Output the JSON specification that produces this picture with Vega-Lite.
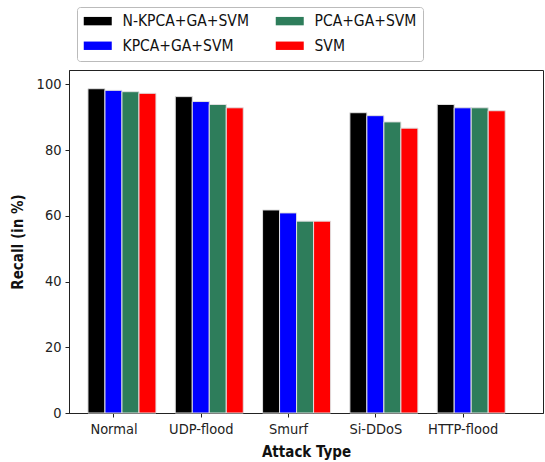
{
  "$schema": "https://vega.github.io/schema/vega-lite/v6.json",
  "width": 474,
  "height": 343,
  "autosize": {"type": "none"},
  "padding": {"left": 69, "top": 70, "right": 2, "bottom": 49},
  "background": "white",
  "config": {
    "font": "DejaVu Sans Condensed",
    "view": {"stroke": "#222222", "strokeWidth": 1}
  },
  "data": {
    "values": [
      {"attack": "Normal", "method": "N-KPCA+GA+SVM", "recall": 98.7},
      {"attack": "Normal", "method": "KPCA+GA+SVM", "recall": 98.2},
      {"attack": "Normal", "method": "PCA+GA+SVM", "recall": 97.8},
      {"attack": "Normal", "method": "SVM", "recall": 97.3},
      {"attack": "UDP-flood", "method": "N-KPCA+GA+SVM", "recall": 96.3},
      {"attack": "UDP-flood", "method": "KPCA+GA+SVM", "recall": 94.8},
      {"attack": "UDP-flood", "method": "PCA+GA+SVM", "recall": 93.9},
      {"attack": "UDP-flood", "method": "SVM", "recall": 92.9},
      {"attack": "Smurf", "method": "N-KPCA+GA+SVM", "recall": 61.8},
      {"attack": "Smurf", "method": "KPCA+GA+SVM", "recall": 60.9},
      {"attack": "Smurf", "method": "PCA+GA+SVM", "recall": 58.4},
      {"attack": "Smurf", "method": "SVM", "recall": 58.4},
      {"attack": "Si-DDoS", "method": "N-KPCA+GA+SVM", "recall": 91.4},
      {"attack": "Si-DDoS", "method": "KPCA+GA+SVM", "recall": 90.5},
      {"attack": "Si-DDoS", "method": "PCA+GA+SVM", "recall": 88.6},
      {"attack": "Si-DDoS", "method": "SVM", "recall": 86.7},
      {"attack": "HTTP-flood", "method": "N-KPCA+GA+SVM", "recall": 93.9},
      {"attack": "HTTP-flood", "method": "KPCA+GA+SVM", "recall": 92.9},
      {"attack": "HTTP-flood", "method": "PCA+GA+SVM", "recall": 92.9},
      {"attack": "HTTP-flood", "method": "SVM", "recall": 92.0}
    ]
  },
  "mark": {"type": "bar", "stroke": "#e0e0e0", "strokeWidth": 1},
  "encoding": {
    "x": {
      "field": "attack",
      "type": "nominal",
      "sort": ["Normal", "UDP-flood", "Smurf", "Si-DDoS", "HTTP-flood"],
      "scale": {"paddingInner": 0.221, "paddingOuter": 0.325, "align": 0.334},
      "axis": {
        "title": "Attack Type",
        "titleFontSize": 15,
        "titleFontWeight": "bold",
        "titleColor": "#111111",
        "titlePadding": 9,
        "labelAngle": 0,
        "labelFontSize": 14.5,
        "labelColor": "#222222",
        "labelPadding": 5,
        "tickOffset": -8.5,
        "tickSize": 4,
        "tickColor": "#222222",
        "domainColor": "#222222"
      }
    },
    "xOffset": {
      "field": "method",
      "type": "nominal",
      "sort": ["N-KPCA+GA+SVM", "KPCA+GA+SVM", "PCA+GA+SVM", "SVM"],
      "scale": {"paddingInner": 0, "paddingOuter": 0}
    },
    "y": {
      "field": "recall",
      "type": "quantitative",
      "scale": {"domain": [0, 104.4], "nice": false},
      "axis": {
        "title": "Recall (in %)",
        "titleFontSize": 15,
        "titleFontWeight": "bold",
        "titleColor": "#111111",
        "titlePadding": 11,
        "values": [0, 20, 40, 60, 80, 100],
        "grid": false,
        "labelFontSize": 14.5,
        "labelColor": "#222222",
        "labelPadding": 4,
        "tickSize": 4,
        "tickColor": "#222222",
        "domainColor": "#222222"
      }
    },
    "color": {
      "field": "method",
      "type": "nominal",
      "scale": {
        "domain": ["N-KPCA+GA+SVM", "PCA+GA+SVM", "KPCA+GA+SVM", "SVM"],
        "range": ["#000000", "#2e7d5b", "#0000ff", "#ff0000"]
      },
      "legend": {
        "title": null,
        "orient": "none",
        "legendX": 8,
        "legendY": -63,
        "columns": 2,
        "direction": "horizontal",
        "columnPadding": 26,
        "rowPadding": 8,
        "padding": 6,
        "fillColor": "white",
        "strokeColor": "#bbbbbb",
        "cornerRadius": 3,
        "symbolType": "M-2,-0.6H2V0.6H-2Z",
        "symbolSize": 196,
        "symbolStrokeWidth": 0,
        "symbolOpacity": 1,
        "symbolOffset": 7,
        "labelFontSize": 15.5,
        "labelColor": "#111111",
        "labelOffset": 17,
        "labelLimit": 200
      }
    }
  }
}
